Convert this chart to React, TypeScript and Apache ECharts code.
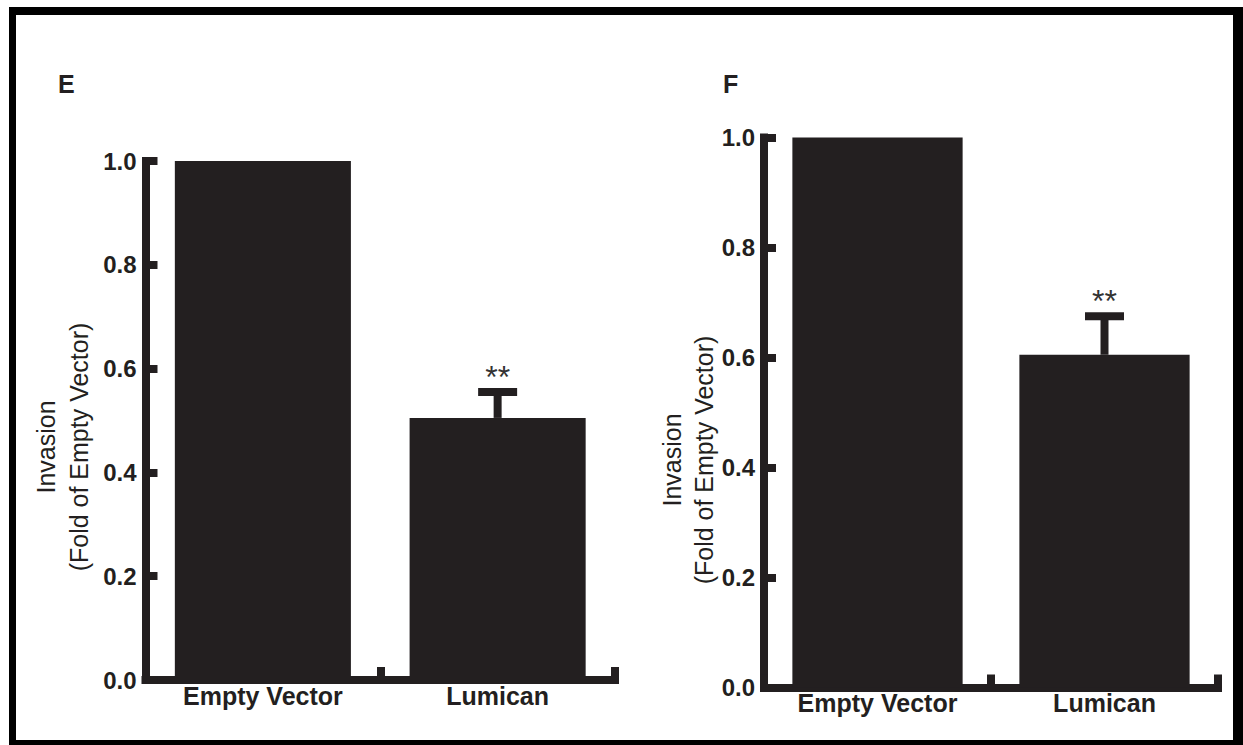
import React, { useEffect, useRef } from "react";
import * as echarts from "echarts";

const categories = ["Empty Vector", "Lumican"];
const yTicks = [0, 0.2, 0.4, 0.6, 0.8, 1.0];
const meansE = [1.0, 0.505];
const errE = [0, 0.05];
const starsE = ["", "**"];
const meansF = [1.0, 0.605];
const errF = [0, 0.07];
const starsF = ["", "**"];
const panelLetters = ["E", "F"];
const yNameLine1 = "Invasion";
const yNameLine2 = "(Fold of Empty Vector)";

const FONT = "'Liberation Sans', Arial, Helvetica, sans-serif";
const INK = "#231f20";

function errData(means: number[], errs: number[], stars: string[]) {
  const out: any[] = [];
  means.forEach((m, i) => {
    if (errs[i] > 0) out.push([i, m, m + errs[i], stars[i]]);
  });
  return out;
}

const renderErr = (params: any, api: any) => {
  const base = api.coord([api.value(0), api.value(1)]);
  const top = api.coord([api.value(0), api.value(2)]);
  const star = params.dataIndex >= 0 ? api.value(3) : "";
  const x = base[0];
  return {
    type: "group",
    children: [
      { type: "rect", shape: { x: x - 4, y: top[1], width: 8, height: base[1] - top[1] }, style: { fill: INK } },
      { type: "rect", shape: { x: x - 19.5, y: top[1] - 4, width: 39, height: 8 }, style: { fill: INK } },
      {
        type: "text",
        x: x,
        y: top[1] - 15,
        style: { text: String(star), fill: "#333", font: `32px ${FONT}`, textAlign: "center", textVerticalAlign: "middle" },
      },
    ],
  };
};

function makeX(gridIndex: number) {
  return {
    type: "category",
    gridIndex,
    data: categories,
    boundaryGap: true,
    axisLine: { show: true, lineStyle: { color: INK, width: 8, cap: "square" } },
    axisTick: { show: true, inside: true, length: 13, interval: 0, alignWithLabel: false, lineStyle: { color: INK, width: 8 } },
    axisLabel: { show: true, margin: 3, interval: 0, color: INK, fontSize: 25, fontWeight: "bold", fontFamily: FONT },
    splitLine: { show: false },
  };
}

function makeY(gridIndex: number) {
  return {
    type: "value",
    gridIndex,
    min: yTicks[0],
    max: yTicks[yTicks.length - 1],
    interval: 0.2,
    axisLine: { show: true, lineStyle: { color: INK, width: 8, cap: "square" } },
    axisTick: { show: true, inside: true, length: 12, lineStyle: { color: INK, width: 8 } },
    axisLabel: {
      show: true,
      margin: 9,
      color: INK,
      fontSize: 24,
      fontWeight: "bold",
      fontFamily: FONT,
      formatter: (v: number) => v.toFixed(1),
    },
    splitLine: { show: false },
  };
}

export default function App() {
  const ref = useRef<HTMLDivElement>(null);
  useEffect(() => {
    if (!ref.current) return;
    const chart = echarts.init(ref.current, undefined, { renderer: "svg" });
    const nameText = (x: number, y: number, text: string) => ({
      type: "text",
      x,
      y,
      rotation: Math.PI / 2,
      style: { text, fill: INK, font: `25px ${FONT}`, textAlign: "center", textVerticalAlign: "middle" },
    });
    chart.setOption({
      animation: false,
      backgroundColor: "#ffffff",
      grid: [
        { left: 145.5, right: 628, top: 161, bottom: 65 },
        { left: 764, right: 25, top: 137.5, bottom: 57.5 },
      ],
      xAxis: [makeX(0), makeX(1)],
      yAxis: [makeY(0), makeY(1)],
      series: [
        { type: "bar", xAxisIndex: 0, yAxisIndex: 0, data: meansE, barWidth: "75%", itemStyle: { color: INK } },
        { type: "bar", xAxisIndex: 1, yAxisIndex: 1, data: meansF, barWidth: "75%", itemStyle: { color: INK } },
        { type: "custom", xAxisIndex: 0, yAxisIndex: 0, renderItem: renderErr, data: errData(meansE, errE, starsE), z: 5 },
        { type: "custom", xAxisIndex: 1, yAxisIndex: 1, renderItem: renderErr, data: errData(meansF, errF, starsF), z: 5 },
      ],
      graphic: [
        { type: "rect", shape: { x: 9, y: 7, width: 1234, height: 8 }, style: { fill: "#000" } },
        { type: "rect", shape: { x: 9, y: 7, width: 7, height: 738 }, style: { fill: "#000" } },
        { type: "rect", shape: { x: 1233, y: 7, width: 10, height: 738 }, style: { fill: "#000" } },
        { type: "rect", shape: { x: 9, y: 740, width: 1234, height: 5 }, style: { fill: "#000" } },
        { type: "text", x: 58, y: 84, style: { text: panelLetters[0], fill: INK, font: `bold 25px ${FONT}`, textAlign: "left", textVerticalAlign: "middle" } },
        { type: "text", x: 723, y: 84, style: { text: panelLetters[1], fill: INK, font: `bold 25px ${FONT}`, textAlign: "left", textVerticalAlign: "middle" } },
        nameText(46, 447, yNameLine1),
        nameText(79, 447, yNameLine2),
        nameText(672, 460, yNameLine1),
        nameText(704, 460, yNameLine2),
      ],
    });
    return () => chart.dispose();
  }, []);
  return (
    <div
      ref={ref}
      style={{ position: "fixed", left: 0, top: 0, width: 1243, height: 745, background: "#fff" }}
    />
  );
}
